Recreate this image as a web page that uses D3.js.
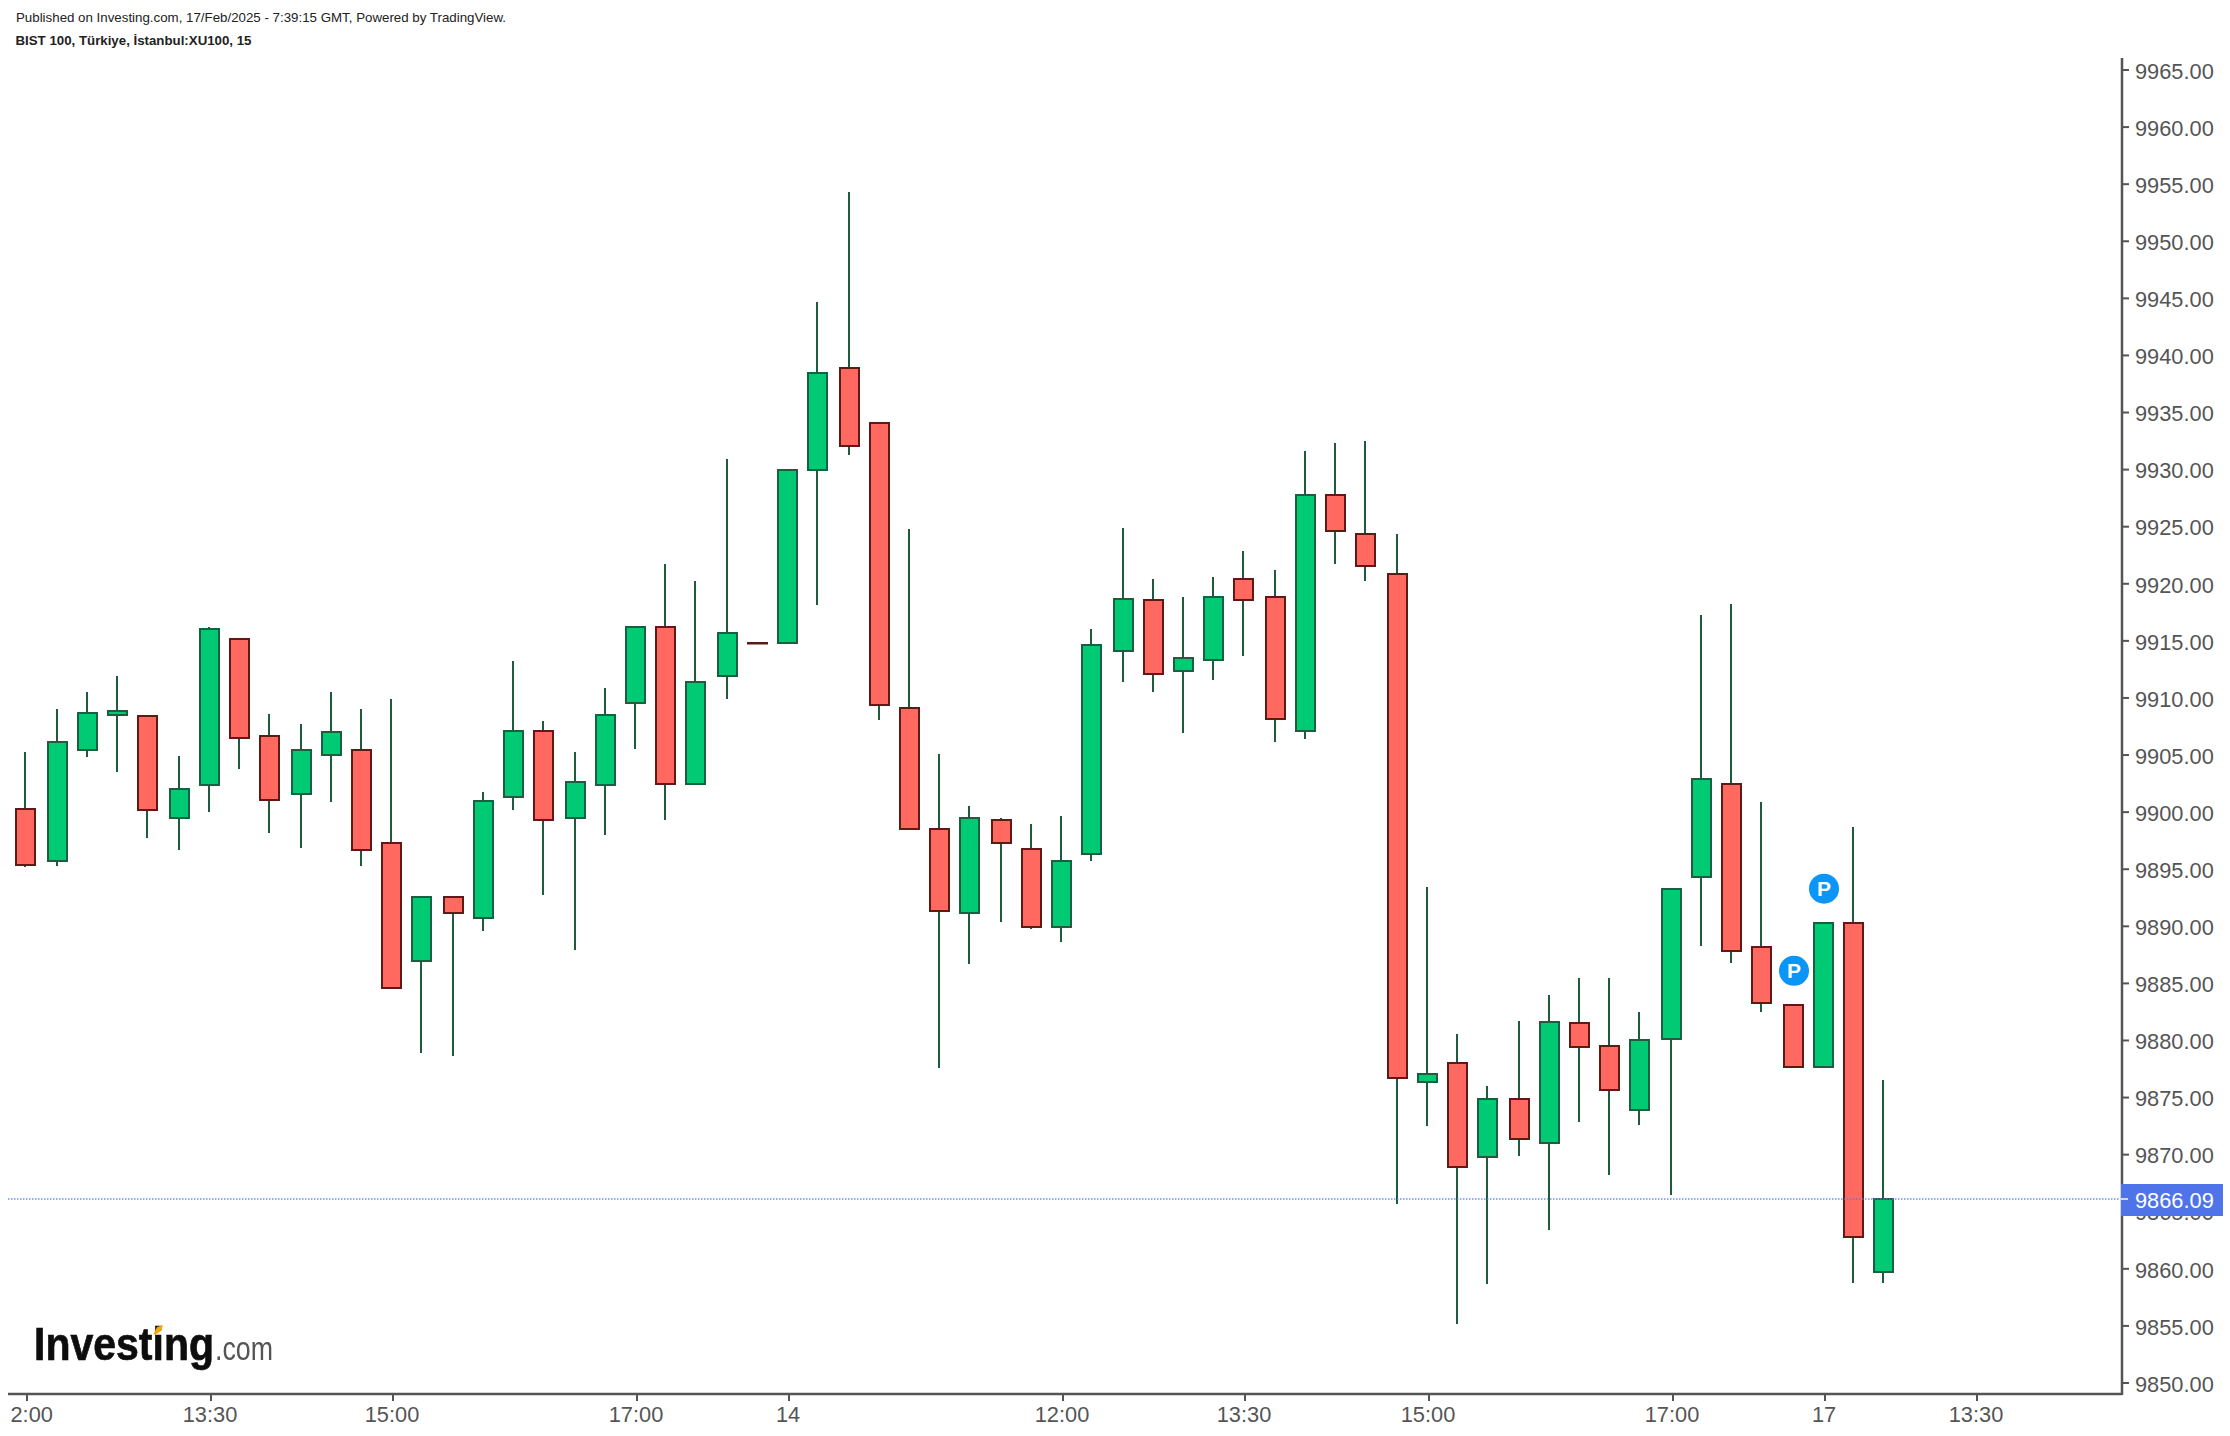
<!DOCTYPE html>
<html><head><meta charset="utf-8">
<script src="https://cdnjs.cloudflare.com/ajax/libs/d3/7.9.0/d3.min.js"></script>
<style>html,body{margin:0;padding:0;background:#fff;overflow:hidden}svg{display:block}text{font-family:"Liberation Sans",Arial,sans-serif}</style>
</head><body><svg id="c" width="2230" height="1436"></svg>
<script>
const opens=[9900.3,9895.7,9905.4,9908.5,9908.4,9899.5,9902.4,9915.2,9906.7,9901.6,9905.0,9905.4,9897.3,9887.0,9892.6,9890.7,9901.3,9907.1,9899.5,9902.4,9909.6,9916.2,9902.5,9911.9,9914.8,9914.8,9930.0,9938.9,9934.1,9909.1,9898.5,9891.2,9899.3,9896.8,9889.9,9896.3,9914.1,9918.6,9912.4,9913.3,9920.4,9918.8,9907.1,9927.8,9924.4,9920.9,9876.4,9878.0,9869.8,9874.9,9871.0,9881.5,9879.5,9873.9,9880.1,9894.3,9902.5,9888.2,9883.1,9877.7,9890.3,9859.7];
const closes=[9895.4,9906.1,9908.7,9908.9,9900.2,9902.0,9916.0,9906.5,9901.1,9905.4,9907.0,9896.7,9884.6,9892.6,9891.2,9901.0,9907.1,9899.3,9902.6,9908.5,9916.2,9902.5,9911.4,9915.7,9914.8,9930.0,9938.5,9932.1,9909.4,9898.5,9891.3,9899.5,9897.3,9889.9,9895.7,9914.6,9918.7,9912.1,9913.5,9918.8,9918.6,9908.2,9927.8,9924.6,9921.6,9876.7,9877.1,9868.9,9874.9,9871.4,9881.6,9879.4,9875.7,9880.0,9893.3,9902.9,9887.8,9883.3,9877.7,9890.3,9862.8,9866.09];
const highs=[9905.3,9909.0,9910.5,9911.9,9908.4,9904.9,9916.2,9915.2,9908.6,9907.7,9910.5,9909.0,9909.9,9892.6,9892.6,9901.8,9913.2,9908.0,9905.3,9910.9,9916.2,9921.7,9920.2,9930.9,9914.8,9930.0,9944.7,9954.3,9934.1,9924.8,9905.1,9900.5,9899.5,9899.0,9899.7,9916.0,9924.9,9920.4,9918.8,9920.6,9922.9,9921.2,9931.6,9932.3,9932.5,9924.4,9893.4,9880.6,9876.0,9881.7,9884.0,9885.5,9885.5,9882.5,9893.3,9917.3,9918.2,9900.9,9883.1,9890.3,9898.7,9876.5];
const lows=[9895.2,9895.3,9904.8,9903.5,9897.7,9896.7,9900.0,9903.8,9898.2,9896.9,9900.9,9895.3,9884.6,9878.9,9878.6,9889.6,9900.2,9892.7,9887.9,9898.0,9905.5,9899.3,9902.5,9909.9,9914.8,9914.8,9918.1,9931.3,9908.1,9898.5,9877.6,9886.7,9890.4,9889.8,9888.6,9895.7,9911.4,9910.5,9906.9,9911.6,9913.7,9906.1,9906.4,9921.7,9920.2,9865.7,9872.5,9855.2,9858.7,9869.9,9863.4,9872.9,9868.2,9872.6,9866.5,9888.3,9886.8,9882.5,9877.7,9877.7,9858.8,9858.8];
const priceTicks=d3.range(9850,9966,5);
const timeTickIndex=[0,6,12,20,25,34,40,46,54,59,64];
const timeTickLabels=["2:00","13:30","15:00","17:00","14","12:00","13:30","15:00","17:00","17","13:30"];
const markerIndex=[58,59];
const markerPrice=[9886.1,9893.3];
const lastPrice=9866.09;
const headerLine="Published on Investing.com, 17/Feb/2025 - 7:39:15 GMT, Powered by TradingView.";
const symbolLine="BIST 100, Türkiye, İstanbul:XU100, 15";

const axX=2122,axY=1394,plotL=8,plotT=58,tagR=2223,fs=21.8;
const x=d3.scaleLinear().domain([0,61]).range([25,1882.45]);
const y=d3.scaleLinear().domain([9850,9965]).range([1383,70]);
const xp=d=>2*Math.ceil((x(d)-1)/2)+1;
const yp=v=>Math.round(y(v));
const svg=d3.select("#c");
const COL={up:"#00ca73",dn:"#ff6960",upB:"#1d5e40",dnB:"#5e1a17",wick:"#1f5a3c",ax:"#555555"};

svg.append("text").attr("x",16).attr("y",22).attr("font-size",13).attr("fill","#222").attr("textLength",490).attr("lengthAdjust","spacingAndGlyphs").text(headerLine);
svg.append("text").attr("x",15.5).attr("y",45).attr("font-size",13).attr("font-weight","bold").attr("fill","#222").attr("textLength",236).attr("lengthAdjust","spacingAndGlyphs").text(symbolLine);

const idx=d3.range(opens.length);
const g=svg.append("g");
g.selectAll("line.w").data(idx).join("line").attr("class","w")
  .attr("x1",xp).attr("x2",xp).attr("y1",i=>yp(highs[i])).attr("y2",i=>yp(lows[i]))
  .attr("stroke",COL.wick).attr("stroke-width",2);
g.selectAll("rect.b").data(idx).join("rect").attr("class","b")
  .attr("x",i=>xp(i)-9).attr("width",19)
  .attr("y",i=>yp(Math.max(opens[i],closes[i])))
  .attr("height",i=>Math.max(0.5,Math.abs(yp(opens[i])-yp(closes[i]))))
  .attr("fill",i=>closes[i]>opens[i]?COL.up:COL.dn)
  .attr("stroke",i=>closes[i]>opens[i]?COL.upB:COL.dnB).attr("stroke-width",2);

// last-price dotted line, over the candles
svg.append("line").attr("x1",plotL).attr("x2",axX-3).attr("y1",yp(lastPrice)).attr("y2",yp(lastPrice))
  .attr("stroke","#4f74ea").attr("stroke-width",2).attr("stroke-dasharray","1.5 1.5").attr("stroke-opacity",.6);

// markers
const mk=svg.append("g").selectAll("g").data(markerIndex).join("g")
  .attr("transform",(d,i)=>`translate(${xp(d)+1},${y(markerPrice[i])})`);
mk.append("circle").attr("r",15).attr("fill","#0a95f7");
mk.append("text").attr("text-anchor","middle").attr("y",7.5).attr("font-size",21).attr("fill","#fff").attr("font-weight","bold").text("P");

// axes
const yAxis=d3.axisRight(y).tickValues(priceTicks).tickFormat(d3.format(".2f")).tickSize(7).tickPadding(6).offset(0);
const ga=svg.append("g").attr("transform",`translate(${axX},0)`).call(yAxis);
ga.select(".domain").attr("d",`M0,${plotT}V${axY+1}`);
const xAxis=d3.axisBottom(x).tickValues(timeTickIndex).tickFormat((d,i)=>timeTickLabels[i]).tickSize(7).tickPadding(6).offset(0);
const gb=svg.append("g").attr("transform",`translate(0,${axY})`).call(xAxis);
gb.select(".domain").attr("d",`M${plotL},0H${axX}`);
gb.selectAll(".tick").attr("transform",d=>`translate(${xp(d)+2},0)`);
[ga,gb].forEach(a=>{a.attr("font-family",null).attr("font-size",null);
  a.selectAll(".domain").attr("stroke",COL.ax).attr("stroke-width",2.5).attr("fill","none");
  a.selectAll(".tick line").attr("stroke",COL.ax).attr("stroke-width",2);
  a.selectAll("text").attr("font-size",fs).attr("fill",COL.ax);});
ga.selectAll(".tick text").attr("dy","0.40em");
gb.selectAll(".tick text").attr("x",-1);
gb.selectAll(".tick text").filter((d,i)=>i===0).attr("text-anchor","start").attr("x",-16.5);

// last price label
svg.append("rect").attr("x",axX-1).attr("width",tagR-axX+1).attr("y",1184).attr("height",32).attr("fill","#4f74ea");
svg.append("text").attr("x",axX+13).attr("y",yp(lastPrice)+9).attr("font-size",fs).attr("fill","#fff").text(d3.format(".2f")(lastPrice));
svg.append("line").attr("x1",axX-1).attr("x2",axX+6).attr("y1",yp(lastPrice)).attr("y2",yp(lastPrice)).attr("stroke","#cfd8fa").attr("stroke-width",2);

// logo
const defs=svg.append("defs");
defs.append("filter").attr("id","soft").append("feGaussianBlur").attr("stdDeviation",0.7);
const logo=svg.append("g").attr("filter","url(#soft)");
logo.append("text").attr("x",34).attr("y",1360).attr("font-size",47).attr("font-weight","bold").attr("fill","#0a0a0a").attr("stroke","#0a0a0a").attr("stroke-width",0.7).attr("textLength",180).attr("lengthAdjust","spacingAndGlyphs").text("Investing");
logo.append("text").attr("x",215).attr("y",1360).attr("font-size",33).attr("fill","#555").attr("textLength",58).attr("lengthAdjust","spacingAndGlyphs").text(".com");
logo.append("path").attr("d","M153.5,1334 L157,1327 L163,1325 L161,1331 L155,1335 Z").attr("fill","#f7a600");
</script></body></html>
